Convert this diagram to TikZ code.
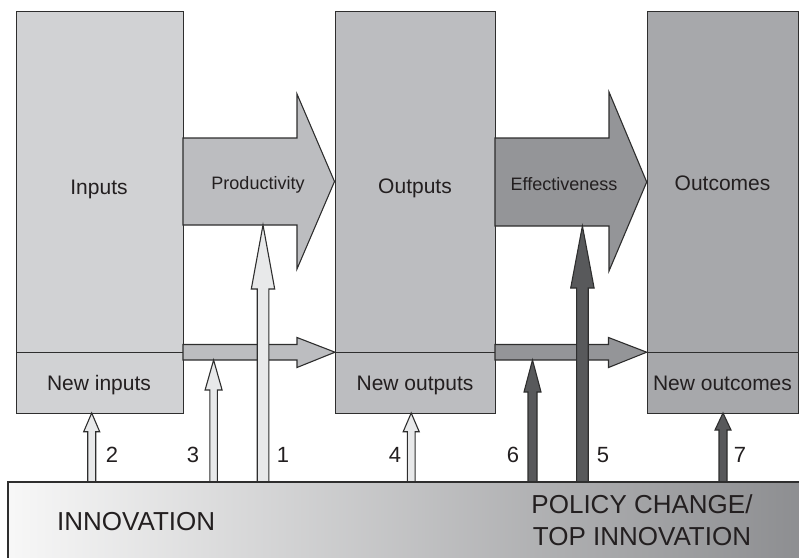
\documentclass[tikz,border=0pt]{standalone}
\usepackage{fontspec}
\setmainfont{Liberation Sans}
\definecolor{cin}{HTML}{D1D2D4}
\definecolor{cout}{HTML}{BCBDC0}
\definecolor{coc}{HTML}{A7A8AB}
\definecolor{ceff}{HTML}{949598}
\definecolor{clight}{HTML}{E8E9EA}
\definecolor{cdark}{HTML}{58595B}
\definecolor{cline}{HTML}{2E2E2E}
\definecolor{ctext}{HTML}{231F20}
\newcommand\uparrowshape[7]{% xc, ytip, ybase, shafthalf, headhalf, fill, name
  \coordinate (#7) at (#1,#2);
  \fill[#6] (#1-#4,482) -- (#1-#4,#3) -- (#1-#5,#3) -- (#7) -- (#1+#5,#3) -- (#1+#4,#3) -- (#1+#4,482) -- cycle;
  \draw[cline, line width=1.1pt] (#1-#4,482) -- (#1-#4,#3) -- (#1-#5,#3) -- (#7) -- (#1+#5,#3) -- (#1+#4,#3) -- (#1+#4,482);
}
\begin{document}
\begin{tikzpicture}[x=1pt,y=-1pt,
  boxst/.style={draw=cline, line width=1.1pt, rectangle, inner sep=0pt, anchor=north west},
  bigarr/.style={draw=cline, line width=1.1pt, line join=miter},
  lab/.style={text=ctext, font=\fontsize{21}{21}\selectfont, anchor=base, inner sep=0pt},
  arrlab/.style={text=ctext, font=\fontsize{18}{18}\selectfont, anchor=base, inner sep=0pt},
  numlab/.style={text=ctext, font=\fontsize{22}{22}\selectfont, anchor=base, inner sep=0pt},
  barlab/.style={text=ctext, font=\fontsize{26}{26}\selectfont, inner sep=0pt}]
\useasboundingbox (0,0) rectangle (799,557);

% boxes
\node[boxst, fill=cin, minimum width=167.3pt, minimum height=341.3pt] (inputs) at (15.7,10.7) {};
\node[boxst, fill=cin, minimum width=167.3pt, minimum height=61pt] (newin) at (15.7,352) {};
\node[boxst, fill=cout, minimum width=160pt, minimum height=341.3pt] (outputs) at (335,10.7) {};
\node[boxst, fill=cout, minimum width=160pt, minimum height=61pt] (newout) at (335,352) {};
\node[boxst, fill=coc, minimum width=151.6pt, minimum height=341.3pt] (outcomes) at (646.7,10.7) {};
\node[boxst, fill=coc, minimum width=151.6pt, minimum height=61pt] (newoc) at (646.7,352) {};

% big block arrows
\draw[bigarr, fill=cout] (183,138) -- (297,138) -- (297,94) -- (334.5,181.5) -- (297,269) -- (297,225) -- (183,225) -- cycle;
\draw[bigarr, fill=ceff] (495,138) -- (609,138) -- (609,92) -- (646.7,182) -- (609,271) -- (609,226) -- (495,226) -- cycle;

% small horizontal arrows
\draw[bigarr, fill=cout] (183,344.5) -- (297,344.5) -- (297,337.5) -- (335,352.2) -- (297,367.5) -- (297,360) -- (183,360) -- cycle;
\draw[bigarr, fill=ceff] (495,344.5) -- (608.5,344.5) -- (608.5,337.5) -- (646.7,352.2) -- (608.5,367.5) -- (608.5,360) -- (495,360) -- cycle;

% vertical arrows
\uparrowshape{91.7}{413}{431.7}{4}{8}{clight}{t2}
\uparrowshape{213.6}{360}{390}{3.7}{8.5}{clight}{t3}
\uparrowshape{263}{225}{289}{5.8}{11.7}{clight}{t1}
\uparrowshape{411.2}{413}{431.7}{3.9}{8}{clight}{t4}
\uparrowshape{532.5}{360}{392}{4.5}{8.5}{cdark}{t6}
\uparrowshape{582.4}{226}{288}{5.8}{11.7}{cdark}{t5}
\uparrowshape{723}{413}{430}{4}{8}{cdark}{t7}

% innovation bar
\shade[left color=white!97!black, middle color=cin, right color=ceff!95!black] (8,482) rectangle (805,565);
\draw[cline, line width=1.3pt] (8,565) -- (8,482) -- (805,482);
\node (innov) at (8,482) {};

% labels
\node[lab] at (99,194) {Inputs};
\node[lab] at (99,390) {New inputs};
\node[lab] at (415,193) {Outputs};
\node[lab] at (415,390) {New outputs};
\node[lab] at (722.5,190) {Outcomes};
\node[lab] at (722.5,390) {New outcomes};
\node[arrlab] at (258,189) {Productivity};
\node[arrlab] at (564,190) {Effectiveness};

\node[numlab] at (112,462.7) {2};
\node[numlab] at (193,462.7) {3};
\node[numlab] at (283,462.7) {1};
\node[numlab] at (395,462.7) {4};
\node[numlab] at (513,462.7) {6};
\node[numlab] at (603,462.7) {5};
\node[numlab] at (740,462.7) {7};

\node[barlab, anchor=base west] at (57,530.7) {INNOVATION};
\node[barlab, anchor=base] at (642,513.3) {POLICY CHANGE/};
\node[barlab, anchor=base] at (642,545.7) {TOP INNOVATION};
\end{tikzpicture}
\end{document}
